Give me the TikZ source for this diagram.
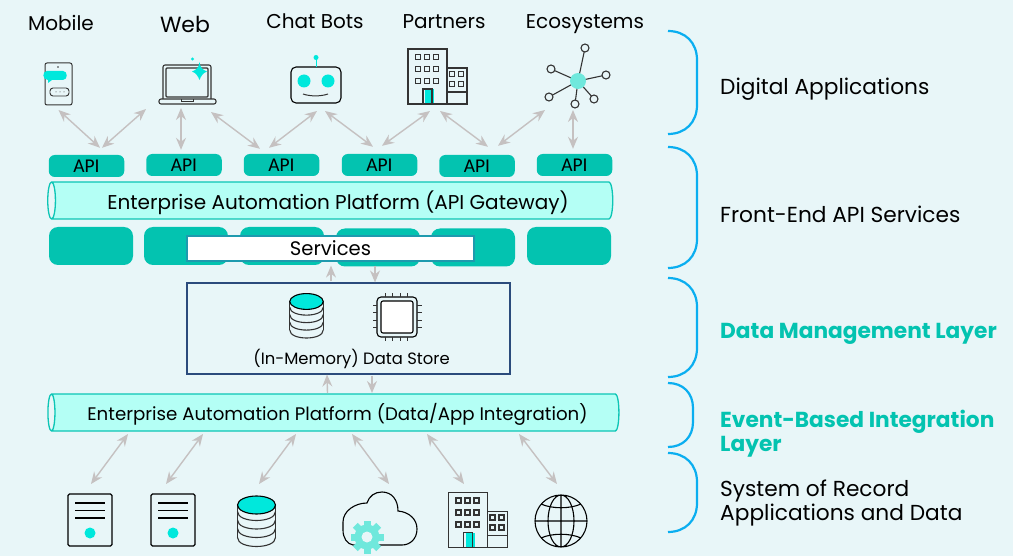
\documentclass[tikz,border=0pt]{standalone}
\usepackage{fontspec}
\setmainfont{Poppins}
\newfontfamily\apifont{Carlito}
\usetikzlibrary{arrows.meta,shapes.geometric}
\definecolor{pagebg}{HTML}{E8F6F8}
\definecolor{tealbox}{HTML}{03C3B0}
\definecolor{tealline}{HTML}{0CC5B5}
\definecolor{busfill}{HTML}{B4FFF5}
\definecolor{cyanmark}{HTML}{00E8DC}
\definecolor{softcyan}{HTML}{6FE8DC}
\definecolor{bracketblue}{HTML}{0AAEF0}
\definecolor{arrowgray}{HTML}{C5C1C1}
\definecolor{inkgray}{HTML}{333333}
\definecolor{storeline}{HTML}{2B4B7C}
\definecolor{svcline}{HTML}{1E9AAE}
\tikzset{
  apibox/.style={fill=tealbox, rounded corners=6pt, minimum width=75.5pt, minimum height=22pt, inner sep=0pt, font=\apifont\fontsize{19.5}{22}\selectfont},
  svcbox/.style={fill=tealbox, rounded corners=9pt, minimum width=84pt, minimum height=38pt, inner sep=0pt},
  busbar/.style={cylinder, shape border rotate=180, aspect=0.32, draw=tealline, line width=1.3pt, cylinder uses custom fill, cylinder body fill=busfill, cylinder end fill=pagebg, inner sep=0pt, outer sep=0pt, font=\fontsize{20}{22}\selectfont},
  icon/.style={inner sep=0pt, outer sep=0pt},
  toplabel/.style={inner sep=0pt, font=\fontsize{20}{22}\selectfont},
  sidelabel/.style={inner sep=0pt, anchor=west, align=left, font=\fontsize{21.7}{24}\selectfont},
  greenlabel/.style={sidelabel, text=tealbox, font=\fontsize{21.7}{24}\selectfont\bfseries},
  twoway/.style={{Stealth[length=12pt,width=10pt,inset=4pt]}-{Stealth[length=12pt,width=10pt,inset=4pt]}, draw=arrowgray, line width=1.4pt},
  oneway/.style={-{Stealth[length=12pt,width=10pt,inset=4pt]}, draw=arrowgray, line width=1.4pt},
  pics/dbicon/.style={code={
    \foreach \yy in {-10,-1.5,7,16} \draw[inkgray, line width=1.1pt] (-19,\yy) .. controls (-19,\yy+12) and (19,\yy+12) .. (19,\yy);
    \draw[inkgray, line width=1.1pt] (-19,-16.5) -- (-19,16) (19,-16.5) -- (19,16);
    \draw[black, fill=cyanmark, line width=1.1pt] (0,-16.5) circle[x radius=19, y radius=9];
  }},
  pics/docicon/.style={code={
    \draw[black, line width=1.1pt, rounded corners=1.5pt] (-22,-26) rectangle (22,26);
    \foreach \yy in {-17,-9.5,-2} \draw[black, line width=1.1pt] (-15,\yy) -- (15,\yy);
    \fill[cyanmark] (0,13) circle (5.5);
  }},
  pics/officeicon/.style={code={
    \fill[cyanmark] (-12.5,12.5) rectangle (-3.5,27.5);
    \draw[inkgray, line width=1.2pt] (-29.5,27.5) -- (-29.5,-27.5) -- (9.5,-27.5) -- (9.5,27.5) -- cycle (9.5,-8.5) -- (29.5,-8.5) -- (29.5,27.5) -- (9.5,27.5) (9.5,15.5) -- (29.5,15.5) (-14.5,27.5) -- (-14.5,12.5) -- (-5.5,12.5) -- (-5.5,27.5);
    \foreach \xx in {-19.5,-10.5,-1.5} \foreach \yy in {-19.5,-7.5,4.5} \draw[inkgray, line width=1.1pt] (\xx-2.5,\yy-2.5) rectangle (\xx+2.5,\yy+2.5);
    \foreach \xx in {14.5,23.5} \foreach \yy in {-2.5,7.5} \draw[inkgray, line width=1.1pt] (\xx-2.5,\yy-2.5) rectangle (\xx+2.5,\yy+2.5);
  }}
}
\begin{document}
\begin{tikzpicture}[x=1pt,y=-1pt]
\fill[pagebg] (0,0) rectangle (1013,556);
\useasboundingbox (0,0) rectangle (1013,556);

% top row
\node[toplabel] (lblMobile) at (61,23) {Mobile};
\node[toplabel, font=\fontsize{22}{24}\selectfont] (lblWeb) at (185,24) {Web};
\node[toplabel] (lblBots) at (315,21) {Chat Bots};
\node[toplabel] (lblPartners) at (444,22) {Partners};
\node[toplabel] (lblEco) at (585,24) {Ecosystems};

\node[icon, minimum width=27pt, minimum height=42pt] (mobile) at (58.5,84) {};
\node[icon, minimum width=57pt, minimum height=45pt] (laptop) at (187.5,81.5) {};
\node[icon, minimum width=50pt, minimum height=36pt] (robot) at (316,85) {};
\node[icon, minimum width=59pt, minimum height=55pt] (office) at (437.5,76.5) {};
\node[icon, minimum width=66pt, minimum height=64pt] (hub) at (578,76) {};

% phone
\draw[inkgray, line width=1pt, rounded corners=2pt] (45,63) rectangle (72,105);
\fill[inkgray] (58,67) circle (0.8);
\fill[cyanmark] (47,71) -- (63,71) .. controls (68,71) and (68,80) .. (63,80) -- (52,80) -- (48,83) -- (48,80) .. controls (42,80) and (42,71) .. (47,71) -- cycle;
\draw[inkgray, line width=0.9pt, rounded corners=3pt] (50,88) rectangle (69,96);
\foreach \xx in {56,60,64} \fill[inkgray] (\xx,92) circle (0.5);
% laptop
\draw[inkgray, line width=1.1pt, rounded corners=2pt] (163,99) -- (163,65) -- (211,65) -- (211,99);
\draw[inkgray, line width=1.1pt, rounded corners=1pt] (166,68) rectangle (208,97);
\draw[inkgray, line width=1.1pt, rounded corners=2pt] (159,99) -- (216,99) -- (216,104) -- (159,104) -- cycle;
\draw[inkgray, line width=0.9pt] (181,99.5) -- (181,101) -- (193,101) -- (193,99.5);
\fill[cyanmark] (199.5,62) .. controls (200,68) and (203,70) .. (207,71.5) .. controls (203,73) and (201,76) .. (199.5,80) .. controls (198,76) and (196,73) .. (192,71.5) .. controls (196,70) and (199,68) .. (199.5,62) -- cycle;
\fill[cyanmark] (192.5,59) circle (1.7);
% robot
\draw[black, line width=1.1pt, rounded corners=5pt] (291,67) rectangle (341,103);
\fill[cyanmark] (304,81) circle (6.5) (328,81) circle (6.5) (316,57.5) circle (2.5);
\draw[cyanmark, line width=1pt] (316,57.5) -- (316,67);
\draw[inkgray, line width=1pt] (303,94) .. controls (310,96.5) and (321,96.5) .. (328,94);
% office and hub
\pic at (office) {officeicon};
\foreach \sx/\sy in {585/48,551/69,606/75,549/97,594/99,575/104} {
  \draw[inkgray, line width=1.1pt] (578,81) -- (\sx,\sy);
  \draw[inkgray, line width=1.1pt, fill=pagebg] (\sx,\sy) circle (4);
}
\fill[softcyan] (578,81) circle (8);

% api row
\node[apibox] (apiA) at (86.5,166) {API};
\node[apibox] (apiB) at (184,165) {API};
\node[apibox] (apiC) at (281.5,165) {API};
\node[apibox] (apiD) at (379.5,165) {API};
\node[apibox] (apiE) at (477,166) {API};
\node[apibox] (apiF) at (574.5,165) {API};

\node[busbar, minimum width=37pt, minimum height=565pt] (gateway) at (332.5,200.5) {\hspace*{11pt}\raisebox{-2pt}[19pt][5pt]{Enterprise Automation Platform (API Gateway)}};

\foreach \name/\cx/\cy in {svcA/91/246,svcB/186/246,svcC/282/246,svcD/378/247.5,svcE/473/247.5,svcF/569/246}
  \node[svcbox] (\name) at (\cx,\cy) {};
\node[draw=svcline, fill=white, line width=1.2pt, minimum width=287pt, minimum height=25pt, inner sep=0pt, font=\fontsize{19.6}{22}\selectfont] (services) at (330.5,248.5) {Services};

% data store
\node[draw=storeline, line width=1.1pt, minimum width=323pt, minimum height=91pt, inner sep=0pt] (store) at (348.5,328.5) {};
\node[inner sep=0pt, font=\fontsize{16.4}{18}\selectfont] (storeText) at (351.5,359) {(In-Memory) Data Store};
\pic[scale=0.88] at (306.5,316) {dbicon};
\draw[black, line width=1.1pt, rounded corners=4pt] (377,297) rectangle (417,337);
\draw[black, line width=1.1pt, fill=white, rounded corners=2pt] (381,301) rectangle (413,333);
\foreach \off in {-12,-4.5,3,10.5} {
  \draw[inkgray, line width=0.8pt] (397+\off,297) -- (397+\off,293) (397+\off,337) -- (397+\off,341);
  \draw[inkgray, line width=0.8pt] (377,317+\off) -- (372.5,317+\off) (417,317+\off) -- (421.5,317+\off);
}

\node[busbar, minimum width=37pt, minimum height=571pt] (integration) at (335.5,412.5) {\hspace*{4pt}\fontsize{18.2}{20}\selectfont\raisebox{-1pt}[17.5pt][4.5pt]{Enterprise Automation Platform (Data/App Integration)}};

% bottom row
\node[icon, minimum width=44pt, minimum height=52pt] (docA) at (90,520) {};
\node[icon, minimum width=44pt, minimum height=52pt] (docB) at (173,520) {};
\node[icon, minimum width=38pt, minimum height=51pt] (dbB) at (256.5,521.5) {};
\node[icon, minimum width=74pt, minimum height=54pt] (cloud) at (380,519) {};
\node[icon, minimum width=59pt, minimum height=55pt] (officeB) at (478,520) {};
\node[icon, minimum width=52pt, minimum height=52pt] (globe) at (561,521) {};
\pic at (docA) {docicon};
\pic at (docB) {docicon};
\pic at (dbB) {dbicon};
\pic at (officeB) {officeicon};
\draw[black, line width=1.1pt] (353,545) .. controls (347,544) and (343,538) .. (343,530) -- (343,522) .. controls (343,511) and (355,503) .. (367,503) .. controls (369,496) and (375,492) .. (382,492) .. controls (392,492) and (398,500) .. (398,511) .. controls (409,512) and (417,519) .. (417,529) .. controls (417,539) and (410,545) .. (402,545) -- cycle;
\fill[softcyan] (367,537) circle (12.5);
\foreach \a in {0,45,...,315} \fill[softcyan, rotate around={\a:(367,537)}] (363.5,520.5) rectangle (370.5,528);
\fill[pagebg] (367,537) circle (5.5);
\draw[black, line width=1.1pt] (561,521) circle (26) (561,495) -- (561,547) (535,521) -- (587,521) (561,521) circle[x radius=13, y radius=26];
\draw[black, line width=1.1pt] (541,504) .. controls (552,509) and (570,509) .. (581,504) (541,538) .. controls (552,533) and (570,533) .. (581,538);

% edges
\draw[twoway] ([shift={(0,5)}]mobile.south) -- ([shift={(13.5,-7)}]apiA.north);
\draw[twoway] ([shift={(-41.5,5)}]laptop.south) -- ([shift={(15.5,-7)}]apiA.north);
\draw[twoway] ([shift={(-6.5,4)}]laptop.south) -- ([shift={(-3,-4)}]apiB.north);
\draw[twoway] ([shift={(23.5,8)}]laptop.south) -- ([shift={(-21.5,-5)}]apiC.north);
\draw[twoway] ([shift={(1,8)}]robot.south) -- ([shift={(-12.5,-6)}]apiC.north);
\draw[twoway] ([shift={(9,8)}]robot.south) -- ([shift={(-6.5,-7)}]apiD.north);
\draw[twoway] ([shift={(-7.5,7)}]office.south) -- ([shift={(2.5,-8)}]apiD.north);
\draw[twoway] ([shift={(2.5,7)}]office.south) -- ([shift={(11,-8)}]apiE.north);
\draw[twoway] ([shift={(-33,2)}]hub.south) -- ([shift={(21,-9)}]apiE.north);
\draw[twoway] ([shift={(-5,2)}]hub.south) -- ([shift={(-1.5,-5)}]apiF.north);
\draw[oneway] ([shift={(-17.5,-1)}]store.north) -- ([shift={(.5,4)}]services.south); % store to services
\draw[oneway] ([shift={(44.5,4)}]services.south) -- ([shift={(26.5,0)}]store.north); % services to store
\draw[oneway] ([shift={(-8,-19.5)}]integration.center) -- ([shift={(-21.5,0)}]store.south);
\draw[oneway] ([shift={(23.5,1)}]store.south) -- ([shift={(36.5,-19.5)}]integration.center);
\draw[twoway] ([shift={(-207.5,21.5)}]integration.center) -- ([shift={(1,-10)}]docA.north);
\draw[twoway] ([shift={(-132.5,21.5)}]integration.center) -- ([shift={(-7,-10)}]docB.north);
\draw[twoway] ([shift={(-39.5,21.5)}]integration.center) -- ([shift={(2.5,-12)}]dbB.north);
\draw[twoway] ([shift={(16.5,21.5)}]integration.center) -- ([shift={(9,-8)}]cloud.north);
\draw[twoway] ([shift={(91.5,21.5)}]integration.center) -- ([shift={(-14,-8.5)}]officeB.north);
\draw[twoway] ([shift={(183.5,21.5)}]integration.center) -- ([shift={(-4,-11)}]globe.north);

% layer brackets
\foreach \tp/\bt/\xm/\rr in {31/134/697/29,147/268/697/29,278/377/697/29,383/447/693/25,453/532/697/29}
  \draw[bracketblue, line width=2.2pt] (668,\tp) .. controls (668+0.6*\rr,\tp) and (\xm,\tp+0.4*\rr) .. (\xm,\tp+\rr) -- (\xm,\bt-\rr) .. controls (\xm,\bt-0.4*\rr) and (668+0.6*\rr,\bt) .. (668,\bt);

\node[sidelabel] (layerApps) at (720,89) {Digital Applications};
\node[sidelabel] (layerFront) at (720,214) {Front-End API Services};
\node[greenlabel] (layerData) at (720,334) {Data Management Layer};
\node[greenlabel] (layerEvent) at (720,434) {Event-Based Integration\\Layer};
\node[sidelabel] (layerRecord) at (720,503) {System of Record\\Applications and Data};
\end{tikzpicture}
\end{document}
